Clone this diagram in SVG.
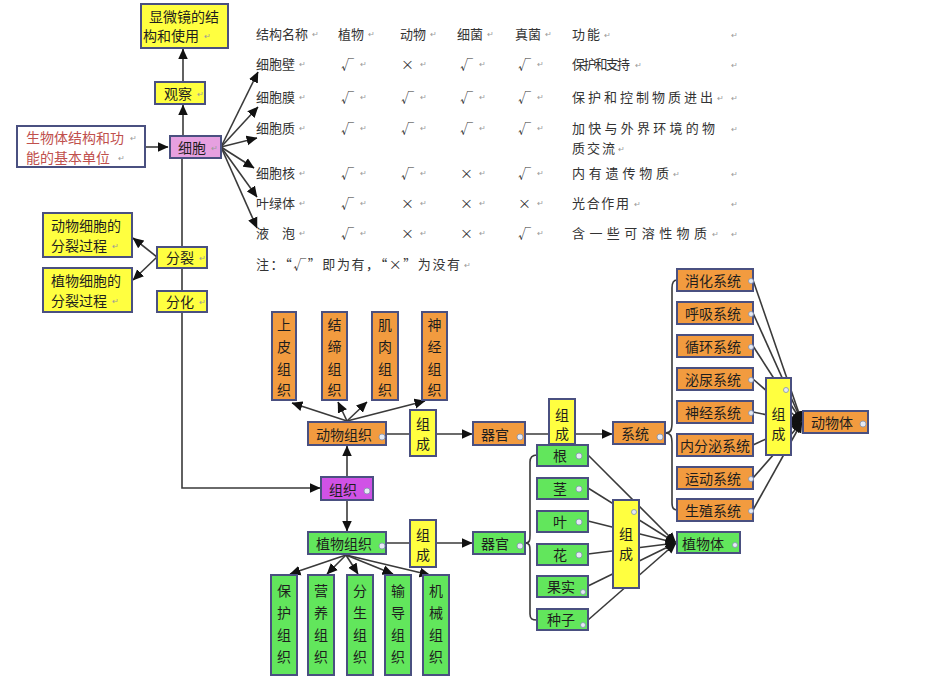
<svg xmlns="http://www.w3.org/2000/svg" width="941" height="685" viewBox="0 0 941 685">
<defs>
<marker id="ar" viewBox="0 0 10 10" refX="9.5" refY="5" markerWidth="11" markerHeight="11" markerUnits="userSpaceOnUse" orient="auto"><path d="M0,0.5 L10,5 L0,9.5 z" fill="#111"/></marker>
<style>
.bx{stroke:#4a5080;stroke-width:2}
.y{fill:#ffff40}
.o{fill:#f29b3f}
.g{fill:#62e65c}
.w{fill:#ffffff}
.pk{fill:#e6a0e0}
.pu{fill:#d052e6}
text{font-family:"Noto Sans CJK SC","Noto Sans",sans-serif;dominant-baseline:central}
.t{font-size:14px;fill:#1e1e1e}
.c{text-anchor:middle}
.tb{font-size:13px;fill:#333}
.m{font-size:8px;fill:#9a9a9a}
.r{fill:#c0504d}
.ln{stroke:#3a3a3a;stroke-width:1.6;fill:none}
.ic{fill:#e6eaf4;stroke:#8090b0;stroke-width:0.8}
</style>
</defs>
<rect width="941" height="685" fill="#ffffff"/>

<g id="connectors">
<path class="ln" d="M145,147 H168" marker-end="url(#ar)"/>
<path class="ln" d="M183,135 V105" marker-end="url(#ar)"/>
<path class="ln" d="M183,81 V49" marker-end="url(#ar)"/>
<path class="ln" d="M221,147 L258,72" marker-end="url(#ar)"/>
<path class="ln" d="M221,147 L258,107" marker-end="url(#ar)"/>
<path class="ln" d="M221,147 L257,138" marker-end="url(#ar)"/>
<path class="ln" d="M221,147 L254,168" marker-end="url(#ar)"/>
<path class="ln" d="M221,147 L257,197" marker-end="url(#ar)"/>
<path class="ln" d="M221,147 L257,228" marker-end="url(#ar)"/>
<path class="ln" d="M182,159 V488 H320" marker-end="url(#ar)"/>
<path class="ln" d="M157,257 L133,238" marker-end="url(#ar)"/>
<path class="ln" d="M157,257 L133,280" marker-end="url(#ar)"/>
<path class="ln" d="M347,477 V446" marker-end="url(#ar)"/>
<path class="ln" d="M347,500 V531" marker-end="url(#ar)"/>
<path class="ln" d="M347,421 L292,403" marker-end="url(#ar)"/>
<path class="ln" d="M347,421 L338,402" marker-end="url(#ar)"/>
<path class="ln" d="M347,421 L367,402" marker-end="url(#ar)"/>
<path class="ln" d="M347,421 L425,401" marker-end="url(#ar)"/>
<path class="ln" d="M386,434 H472" marker-end="url(#ar)"/>
<path class="ln" d="M346,555 L290,574" marker-end="url(#ar)"/>
<path class="ln" d="M346,555 L327,574" marker-end="url(#ar)"/>
<path class="ln" d="M346,555 L358,574" marker-end="url(#ar)"/>
<path class="ln" d="M346,555 L393,574" marker-end="url(#ar)"/>
<path class="ln" d="M346,555 L430,575" marker-end="url(#ar)"/>
<path class="ln" d="M386,543 H472" marker-end="url(#ar)"/>
<path class="ln" d="M525,434 H612" marker-end="url(#ar)"/>
<path class="ln" d="M665,433 C671,433 672,430 672,422 L672,288 C672,282 674,280 677,280"/>
<path class="ln" d="M665,433 C671,433 672,436 672,444 L672,503 C672,508 674,510 677,510"/>
<path class="ln" d="M753,280 L802,422" marker-end="url(#ar)"/>
<path class="ln" d="M753,313 L802,422" marker-end="url(#ar)"/>
<path class="ln" d="M753,346 L802,422" marker-end="url(#ar)"/>
<path class="ln" d="M753,379 L802,422" marker-end="url(#ar)"/>
<path class="ln" d="M753,412 L802,422" marker-end="url(#ar)"/>
<path class="ln" d="M753,445 L802,422" marker-end="url(#ar)"/>
<path class="ln" d="M753,478 L802,422" marker-end="url(#ar)"/>
<path class="ln" d="M753,510 L802,422" marker-end="url(#ar)"/>
<path class="ln" d="M525,543 C530,543 530,540 530,535 L530,462 C530,457 532,455 537,455"/>
<path class="ln" d="M525,543 C530,543 530,546 530,551 L530,614 C530,619 532,620 537,620"/>
<path class="ln" d="M588,455 L676,543" marker-end="url(#ar)"/>
<path class="ln" d="M588,488 L676,543" marker-end="url(#ar)"/>
<path class="ln" d="M588,521 L676,543" marker-end="url(#ar)"/>
<path class="ln" d="M588,554 L676,543" marker-end="url(#ar)"/>
<path class="ln" d="M588,586 L676,543" marker-end="url(#ar)"/>
<path class="ln" d="M588,620 L676,543" marker-end="url(#ar)"/>
</g>

<g id="table">
<text class="tb" x="256" y="33">结构名称<tspan class="m" dx="4">↵</tspan></text>
<text class="tb" x="338" y="33">植物<tspan class="m" dx="4">↵</tspan></text>
<text class="tb" x="400" y="33">动物<tspan class="m" dx="4">↵</tspan></text>
<text class="tb" x="457" y="33">细菌<tspan class="m" dx="4">↵</tspan></text>
<text class="tb" x="515" y="33">真菌<tspan class="m" dx="4">↵</tspan></text>
<text class="tb" x="572" y="33" textLength="28">功能</text><text class="m" x="604" y="34">↵</text>
<text class="m" x="731" y="34">↵</text>

<text class="tb" x="256" y="63">细胞壁<tspan class="m" dx="4">↵</tspan></text>
<text class="tb" x="341" y="63">√<tspan class="m" dx="6">↵</tspan></text>
<text class="tb" x="401" y="63">×<tspan class="m" dx="6">↵</tspan></text>
<text class="tb" x="460" y="63">√<tspan class="m" dx="6">↵</tspan></text>
<text class="tb" x="518" y="63">√<tspan class="m" dx="6">↵</tspan></text>
<text class="tb" x="572" y="63" textLength="58">保护和支持</text><text class="m" x="635" y="64">↵</text>
<text class="m" x="731" y="64">↵</text>

<text class="tb" x="256" y="96">细胞膜<tspan class="m" dx="4">↵</tspan></text>
<text class="tb" x="341" y="96">√<tspan class="m" dx="6">↵</tspan></text>
<text class="tb" x="401" y="96">√<tspan class="m" dx="6">↵</tspan></text>
<text class="tb" x="460" y="96">√<tspan class="m" dx="6">↵</tspan></text>
<text class="tb" x="518" y="96">√<tspan class="m" dx="6">↵</tspan></text>
<text class="tb" x="572" y="96" textLength="141">保护和控制物质进出</text><text class="m" x="717" y="97">↵</text>
<text class="m" x="731" y="97">↵</text>

<text class="tb" x="256" y="127">细胞质<tspan class="m" dx="4">↵</tspan></text>
<text class="tb" x="341" y="127">√<tspan class="m" dx="6">↵</tspan></text>
<text class="tb" x="401" y="127">√<tspan class="m" dx="6">↵</tspan></text>
<text class="tb" x="460" y="127">√<tspan class="m" dx="6">↵</tspan></text>
<text class="tb" x="518" y="127">√<tspan class="m" dx="6">↵</tspan></text>
<text class="tb" x="572" y="127" textLength="143">加快与外界环境的物</text>
<text class="tb" x="572" y="147" textLength="43">质交流</text><text class="m" x="618" y="148">↵</text>
<text class="m" x="731" y="128">↵</text>

<text class="tb" x="256" y="172">细胞核<tspan class="m" dx="4">↵</tspan></text>
<text class="tb" x="341" y="172">√<tspan class="m" dx="6">↵</tspan></text>
<text class="tb" x="401" y="172">√<tspan class="m" dx="6">↵</tspan></text>
<text class="tb" x="460" y="172">×<tspan class="m" dx="6">↵</tspan></text>
<text class="tb" x="518" y="172">√<tspan class="m" dx="6">↵</tspan></text>
<text class="tb" x="572" y="172" textLength="97">内有遗传物质</text><text class="m" x="673" y="173">↵</text>
<text class="m" x="731" y="173">↵</text>

<text class="tb" x="256" y="202">叶绿体<tspan class="m" dx="4">↵</tspan></text>
<text class="tb" x="341" y="202">√<tspan class="m" dx="6">↵</tspan></text>
<text class="tb" x="401" y="202">×<tspan class="m" dx="6">↵</tspan></text>
<text class="tb" x="460" y="202">×<tspan class="m" dx="6">↵</tspan></text>
<text class="tb" x="518" y="202">×<tspan class="m" dx="6">↵</tspan></text>
<text class="tb" x="572" y="202" textLength="57">光合作用</text><text class="m" x="634" y="203">↵</text>
<text class="m" x="731" y="203">↵</text>

<text class="tb" x="256" y="232">液　泡<tspan class="m" dx="4">↵</tspan></text>
<text class="tb" x="341" y="232">√<tspan class="m" dx="6">↵</tspan></text>
<text class="tb" x="401" y="232">×<tspan class="m" dx="6">↵</tspan></text>
<text class="tb" x="460" y="232">×<tspan class="m" dx="6">↵</tspan></text>
<text class="tb" x="518" y="232">√<tspan class="m" dx="6">↵</tspan></text>
<text class="tb" x="572" y="232" textLength="135">含一些可溶性物质</text><text class="m" x="712" y="233">↵</text>
<text class="m" x="731" y="233">↵</text>

<text class="tb" x="256" y="263" textLength="204">注：“√”即为有，“×”为没有</text><text class="m" x="464" y="264">↵</text>
</g>

<g id="n-microscope"><rect class="bx y" x="141" y="4" width="87" height="44"/><text class="t" x="149" y="16">显微镜的结</text><text class="t" x="143" y="35">构和使用<tspan class="m" dx="5">↵</tspan></text></g>
<g id="n-observe"><rect class="bx y" x="155" y="82" width="50" height="22"/><text class="t" x="164" y="93">观察<tspan class="m" dx="5">↵</tspan></text></g>
<g id="n-unit"><rect class="bx w" x="17" y="126" width="128" height="41"/><text class="t r" x="26" y="137">生物体结构和功<tspan class="m" dx="6">↵</tspan></text><text class="t r" x="26" y="157">能的基本单位<tspan class="m" dx="8">↵</tspan></text></g>
<g id="n-cell"><rect class="bx pk" x="170" y="136" width="51" height="22"/><text class="t" x="178" y="147" fill="#5a1a4a">细胞<tspan class="m" dx="5">↵</tspan></text></g>
<g id="n-animal-div"><rect class="bx y" x="43" y="213" width="89" height="44"/><text class="t" x="51" y="225">动物细胞的</text><text class="t" x="51" y="245">分裂过程<tspan class="m" dx="5">↵</tspan></text></g>
<g id="n-plant-div"><rect class="bx y" x="43" y="268" width="89" height="44"/><text class="t" x="51" y="280">植物细胞的</text><text class="t" x="51" y="300">分裂过程<tspan class="m" dx="5">↵</tspan></text></g>
<g id="n-division"><rect class="bx y" x="157" y="247" width="50" height="21"/><text class="t" x="166" y="257">分裂<tspan class="m" dx="5">↵</tspan></text></g>
<g id="n-diff"><rect class="bx y" x="157" y="291" width="50" height="21"/><text class="t" x="166" y="301">分化<tspan class="m" dx="5">↵</tspan></text></g>

<g id="n-t1"><rect class="bx o" x="272" y="312" width="24" height="88"/><text class="t c" x="284" y="324">上</text><text class="t c" x="284" y="346">皮</text><text class="t c" x="284" y="368">组</text><text class="t c" x="284" y="389">织</text></g>
<g id="n-t2"><rect class="bx o" x="322" y="312" width="25" height="88"/><text class="t c" x="334.5" y="324">结</text><text class="t c" x="334.5" y="346">缔</text><text class="t c" x="334.5" y="368">组</text><text class="t c" x="334.5" y="389">织</text></g>
<g id="n-t3"><rect class="bx o" x="372" y="312" width="26" height="88"/><text class="t c" x="385" y="324">肌</text><text class="t c" x="385" y="346">肉</text><text class="t c" x="385" y="368">组</text><text class="t c" x="385" y="389">织</text></g>
<g id="n-t4"><rect class="bx o" x="422" y="312" width="25" height="88"/><text class="t c" x="434.5" y="324">神</text><text class="t c" x="434.5" y="346">经</text><text class="t c" x="434.5" y="368">组</text><text class="t c" x="434.5" y="389">织</text></g>
<g id="n-animal-tissue"><rect class="bx o" x="308" y="422" width="78" height="23"/><text class="t c" x="344" y="433.5">动物组织</text><circle class="ic" cx="382" cy="437" r="3"/></g>
<g id="n-zc1"><rect class="bx y" x="410" y="410" width="26" height="46"/><text class="t c" x="423" y="423">组</text><text class="t c" x="423" y="443">成</text></g>
<g id="n-organ-a"><rect class="bx o" x="473" y="422" width="52" height="23"/><text class="t c" x="495" y="433.5">器官</text><circle class="ic" cx="520" cy="437" r="3"/></g>
<g id="n-zc2"><rect class="bx y" x="549" y="399" width="26" height="45"/><text class="t c" x="562" y="414">组</text><text class="t c" x="562" y="433">成</text></g>
<g id="n-system"><rect class="bx o" x="613" y="422" width="52" height="22"/><text class="t c" x="635" y="433">系统</text><circle class="ic" cx="660" cy="437" r="3"/></g>

<g id="n-s1"><rect class="bx o" x="677" y="269" width="76" height="22"/><text class="t c" x="713" y="280">消化系统</text><circle class="ic" cx="751" cy="281" r="2.5"/></g>
<g id="n-s2"><rect class="bx o" x="677" y="302" width="76" height="22"/><text class="t c" x="713" y="313">呼吸系统</text><circle class="ic" cx="751" cy="314" r="2.5"/></g>
<g id="n-s3"><rect class="bx o" x="677" y="335" width="76" height="22"/><text class="t c" x="713" y="346">循环系统</text><circle class="ic" cx="751" cy="347" r="2.5"/></g>
<g id="n-s4"><rect class="bx o" x="677" y="368" width="76" height="22"/><text class="t c" x="713" y="379">泌尿系统</text><circle class="ic" cx="751" cy="380" r="2.5"/></g>
<g id="n-s5"><rect class="bx o" x="677" y="401" width="76" height="22"/><text class="t c" x="713" y="412">神经系统</text><circle class="ic" cx="751" cy="413" r="2.5"/></g>
<g id="n-s6"><rect class="bx o" x="677" y="434" width="76" height="22"/><text class="t c" x="715" y="445">内分泌系统</text></g>
<g id="n-s7"><rect class="bx o" x="677" y="467" width="76" height="22"/><text class="t c" x="713" y="478">运动系统</text><circle class="ic" cx="751" cy="479" r="2.5"/></g>
<g id="n-s8"><rect class="bx o" x="677" y="499" width="76" height="22"/><text class="t c" x="713" y="510">生殖系统</text><circle class="ic" cx="751" cy="511" r="2.5"/></g>
<g id="n-zc3"><rect class="bx y" x="766" y="378" width="25" height="77"/><text class="t c" x="778.5" y="413">组</text><text class="t c" x="778.5" y="433">成</text><circle class="ic" cx="786" cy="390" r="2.5"/></g>
<g id="n-animal"><rect class="bx o" x="803" y="411" width="65" height="22"/><text class="t c" x="832" y="422">动物体</text><circle class="ic" cx="863" cy="424" r="3"/></g>

<g id="n-tissue"><rect class="bx pu" x="321" y="477" width="52" height="23"/><text class="t c" x="343" y="488.5" fill="#5a1a6a">组织</text><circle class="ic" cx="367" cy="491" r="3"/></g>
<g id="n-plant-tissue"><rect class="bx g" x="308" y="532" width="78" height="22"/><text class="t c" x="344" y="543">植物组织</text><circle class="ic" cx="382" cy="546" r="3"/></g>
<g id="n-zc4"><rect class="bx y" x="410" y="520" width="26" height="47"/><text class="t c" x="423" y="534">组</text><text class="t c" x="423" y="554">成</text></g>
<g id="n-organ-p"><rect class="bx g" x="473" y="532" width="52" height="22"/><text class="t c" x="495" y="543">器官</text><circle class="ic" cx="520" cy="546" r="3"/></g>
<g id="n-p1"><rect class="bx g" x="271" y="575" width="26" height="100"/><text class="t c" x="284" y="590">保</text><text class="t c" x="284" y="612">护</text><text class="t c" x="284" y="634">组</text><text class="t c" x="284" y="656">织</text></g>
<g id="n-p2"><rect class="bx g" x="308" y="575" width="26" height="100"/><text class="t c" x="321" y="590">营</text><text class="t c" x="321" y="612">养</text><text class="t c" x="321" y="634">组</text><text class="t c" x="321" y="656">织</text></g>
<g id="n-p3"><rect class="bx g" x="347" y="575" width="26" height="100"/><text class="t c" x="360" y="590">分</text><text class="t c" x="360" y="612">生</text><text class="t c" x="360" y="634">组</text><text class="t c" x="360" y="656">织</text></g>
<g id="n-p4"><rect class="bx g" x="385" y="575" width="26" height="100"/><text class="t c" x="398" y="590">输</text><text class="t c" x="398" y="612">导</text><text class="t c" x="398" y="634">组</text><text class="t c" x="398" y="656">织</text></g>
<g id="n-p5"><rect class="bx g" x="423" y="575" width="26" height="100"/><text class="t c" x="436" y="590">机</text><text class="t c" x="436" y="612">械</text><text class="t c" x="436" y="634">组</text><text class="t c" x="436" y="656">织</text></g>

<g id="n-o1"><rect class="bx g" x="537" y="445" width="51" height="21"/><text class="t c" x="560" y="455">根</text><circle class="ic" cx="579" cy="456" r="3"/></g>
<g id="n-o2"><rect class="bx g" x="537" y="478" width="51" height="21"/><text class="t c" x="560" y="488">茎</text><circle class="ic" cx="579" cy="489" r="3"/></g>
<g id="n-o3"><rect class="bx g" x="537" y="511" width="51" height="21"/><text class="t c" x="560" y="521">叶</text><circle class="ic" cx="579" cy="522" r="3"/></g>
<g id="n-o4"><rect class="bx g" x="537" y="544" width="51" height="21"/><text class="t c" x="560" y="554">花</text><circle class="ic" cx="579" cy="555" r="3"/></g>
<g id="n-o5"><rect class="bx g" x="537" y="576" width="51" height="21"/><text class="t c" x="561" y="586">果实</text><circle class="ic" cx="583" cy="592" r="2.5"/></g>
<g id="n-o6"><rect class="bx g" x="537" y="609" width="51" height="21"/><text class="t c" x="561" y="619">种子</text><circle class="ic" cx="583" cy="625" r="2.5"/></g>
<g id="n-zc5"><rect class="bx y" x="613" y="500" width="26" height="88"/><text class="t c" x="626" y="533">组</text><text class="t c" x="626" y="553">成</text><circle class="ic" cx="634" cy="512" r="2.5"/></g>
<g id="n-plant"><rect class="bx g" x="677" y="532" width="63" height="21"/><text class="t c" x="703" y="542.5">植物体</text><circle class="ic" cx="735" cy="545" r="2.5"/></g>
</svg>
